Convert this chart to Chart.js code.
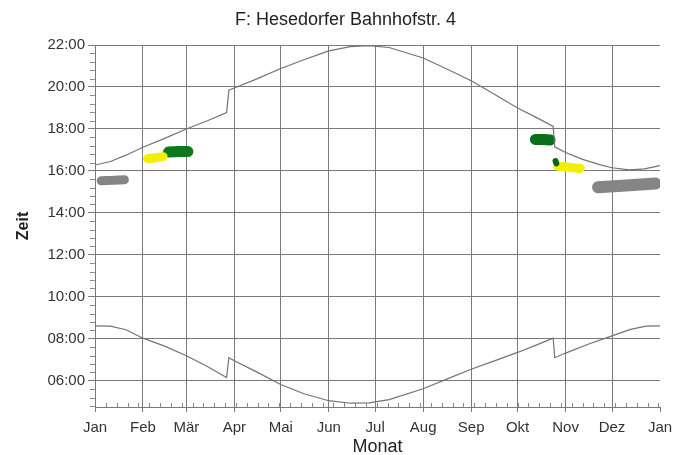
<!DOCTYPE html>
<html>
<head>
<meta charset="utf-8">
<script src="https://cdn.jsdelivr.net/npm/chart.js@4.4.1/dist/chart.umd.min.js"></script>
<style>
  html, body { margin: 0; padding: 0; background: #fff; }
  #wrap { width: 691px; height: 455px; }
</style>
</head>
<body>
<div id="wrap"><canvas id="chart" width="691" height="455"></canvas></div>
<script>
// x = day of year, y = clock time in hours
const monthDays = [0, 31, 59, 90, 120, 151, 181, 212, 243, 273, 304, 334, 365];
const monthLabels = ["Jan", "Feb", "Mär", "Apr", "Mai", "Jun", "Jul", "Aug", "Sep", "Okt", "Nov", "Dez", "Jan"];
const hourTicks = [6, 8, 10, 12, 14, 16, 18, 20, 22];

// sunset (upper curve), with the summer time jumps
const sunsetDays = [0, 10, 20, 31, 45, 59, 73, 85, 86.5, 90, 105, 120, 135, 151, 165, 177, 190, 212, 229, 243, 258, 273, 285, 296, 297, 304, 315, 326, 334, 345, 355, 365];
const sunsetHours = [16.28, 16.45, 16.75, 17.13, 17.55, 18.0, 18.4, 18.78, 19.85, 19.95, 20.4, 20.88, 21.3, 21.72, 21.92, 21.97, 21.88, 21.38, 20.8, 20.3, 19.65, 19.0, 18.55, 18.12, 17.15, 16.88, 16.55, 16.3, 16.15, 16.05, 16.1, 16.25];

// sunrise (lower curve)
const sunriseDays = [0, 10, 20, 31, 45, 59, 72, 85, 86.5, 90, 105, 120, 135, 151, 165, 177, 190, 212, 228, 243, 258, 273, 285, 296, 297, 304, 319, 334, 346, 356, 365];
const sunriseHours = [8.62, 8.6, 8.43, 8.03, 7.65, 7.19, 6.7, 6.15, 7.1, 6.95, 6.4, 5.82, 5.38, 5.05, 4.93, 4.95, 5.1, 5.62, 6.1, 6.55, 6.95, 7.35, 7.7, 8.03, 7.1, 7.32, 7.75, 8.14, 8.45, 8.6, 8.62];

// shadow periods
const grayJanDays = [4, 12, 19];
const grayJanHours = [15.53, 15.55, 15.58];
const yellowFebDays = [34, 39, 44];
const yellowFebHours = [16.58, 16.63, 16.68];
const greenMarDays = [47.5, 54, 60];
const greenMarHours = [16.9, 16.93, 16.92];
const greenOktDays = [284.5, 290, 294];
const greenOktHours = [17.5, 17.5, 17.47];
const greenNovDays = [297.5, 298];
const greenNovHours = [16.47, 16.36];
const yellowNovDays = [299, 306, 313.5];
const yellowNovHours = [16.22, 16.17, 16.12];
const grayDezDays = [325, 343, 362];
const grayDezHours = [15.22, 15.3, 15.4];

const pts = (xs, ys) => xs.map((x, i) => ({ x: x, y: ys[i] }));
const FONT = "'Liberation Sans', Arial, sans-serif";

const curve = (data) => ({
  data: data,
  borderColor: "#737373",
  borderWidth: 1.2,
  pointRadius: 0,
  tension: 0,
});

const blob = (data, color, width) => ({
  data: data,
  borderColor: color,
  borderWidth: width,
  borderCapStyle: "round",
  borderJoinStyle: "round",
  pointRadius: 0,
  tension: 0,
});

// small ticks on both axes
const minorTicks = {
  id: "minorTicks",
  beforeDatasetsDraw(chart) {
    const { ctx, chartArea, scales } = chart;
    const x = scales.x, y = scales.y;
    ctx.save();
    ctx.strokeStyle = "#8a8a8a";
    ctx.lineWidth = 1;
    ctx.beginPath();
    for (let d = 7; d < 365; d += 7) {
      const px = Math.round(x.getPixelForValue(d)) + 0.5;
      ctx.moveTo(px, chartArea.bottom);
      ctx.lineTo(px, chartArea.bottom - 4);
    }
    for (let k = -3; k < 40; k++) {
      if (k % 5 === 0) continue;
      const h = 6 + k * 0.4;
      if (h < 4.8 || h > 22) continue;
      const py = Math.round(y.getPixelForValue(h)) + 0.5;
      ctx.moveTo(chartArea.left - 5, py);
      ctx.lineTo(chartArea.left, py);
    }
    ctx.stroke();
    ctx.restore();
  },
};

new Chart(document.getElementById("chart"), {
  type: "line",
  data: {
    datasets: [
      curve(pts(sunsetDays, sunsetHours)),
      curve(pts(sunriseDays, sunriseHours)),
      blob(pts(grayJanDays, grayJanHours), "#858585", 9),
      blob(pts(yellowFebDays, yellowFebHours), "#f2f000", 9),
      blob(pts(greenMarDays, greenMarHours), "#0c7a1c", 11),
      blob(pts(greenOktDays, greenOktHours), "#0b6e18", 11),
      blob(pts(greenNovDays, greenNovHours), "#0b6418", 6),
      blob(pts(yellowNovDays, yellowNovHours), "#f2f000", 9),
      blob(pts(grayDezDays, grayDezHours), "#858585", 12),
    ],
  },
  plugins: [minorTicks],
  options: {
    responsive: false,
    devicePixelRatio: 1,
    animation: false,
    layout: { padding: 0 },
    plugins: {
      legend: { display: false },
      tooltip: { enabled: false },
      title: {
        display: true,
        text: "F: Hesedorfer Bahnhofstr. 4",
        color: "#222",
        font: { family: FONT, size: 18, weight: "normal" },
        padding: { top: 9, bottom: 14.4 },
      },
    },
    scales: {
      x: {
        type: "linear",
        min: 0,
        max: 365,
        afterBuildTicks: (axis) => {
          axis.ticks = monthDays.map((v) => ({ value: v }));
        },
        afterFit: (scale) => {
          scale.height = 48;
        },
        ticks: {
          autoSkip: false,
          maxRotation: 0,
          padding: 7,
          color: "#333",
          font: { family: FONT, size: 15 },
          callback: (v, i) => monthLabels[i],
        },
        grid: {
          color: (c) => (c.index === monthDays.length - 1 ? "rgba(0,0,0,0)" : "#7a7a7a"),
          tickColor: "#7a7a7a",
          tickLength: 5,
        },
        border: { color: "#7a7a7a" },
        title: {
          display: true,
          text: "Monat",
          color: "#222",
          font: { family: FONT, size: 18 },
          padding: { top: 0, bottom: -3 },
        },
      },
      y: {
        min: 4.75,
        max: 22,
        afterBuildTicks: (axis) => {
          axis.ticks = hourTicks.map((v) => ({ value: v }));
        },
        afterFit: (scale) => {
          scale.width = 95;
        },
        ticks: {
          padding: 3,
          color: "#333",
          font: { family: FONT, size: 15 },
          callback: (v) => String(v).padStart(2, "0") + ":00",
        },
        grid: {
          color: "#7a7a7a",
          tickColor: "#7a7a7a",
          tickLength: 7,
        },
        border: { color: "#7a7a7a" },
        title: {
          display: true,
          text: "Zeit",
          color: "#222",
          font: { family: FONT, size: 16, weight: "bold" },
          padding: { top: 14, bottom: 0 },
        },
      },
      // empty right-hand axis that only keeps the gap after the plot
      gap: {
        type: "linear",
        position: "right",
        display: true,
        ticks: { display: false },
        grid: { display: false, drawTicks: false },
        border: { display: false },
        afterFit: (scale) => {
          scale.width = 31;
        },
      },
    },
  },
});
</script>
</body>
</html>
